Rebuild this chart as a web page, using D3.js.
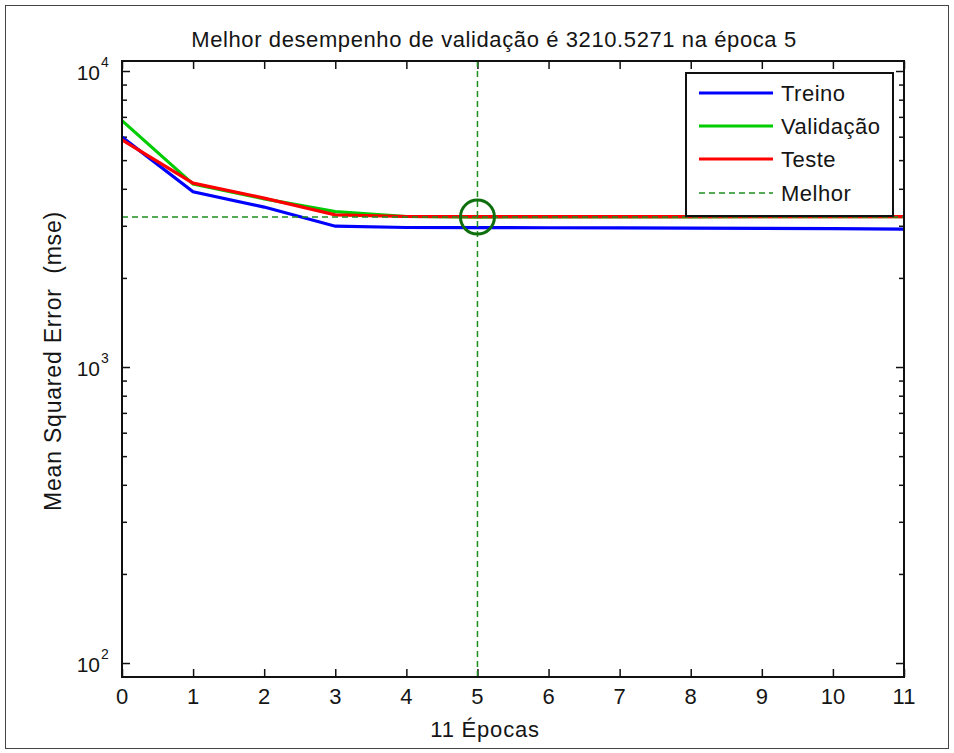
<!DOCTYPE html>
<html>
<head>
<meta charset="utf-8">
<script src="https://cdn.jsdelivr.net/npm/d3@7"></script>
<style>
  body { margin: 0; background: #fff; }
  svg text { font-family: "Liberation Sans", Arial, sans-serif; fill: #151515; }
</style>
</head>
<body>
<svg width="954" height="753"></svg>
<script>
// values
const epochs = [0, 1, 2, 3, 4, 5, 6, 7, 8, 9, 10, 11];
const treino = [5980, 3910, 3470, 2990, 2960, 2958, 2955, 2952, 2948, 2940, 2935, 2925];
const validacao = [6800, 4150, 3700, 3350, 3225, 3210.5271, 3214, 3216, 3217, 3218, 3219, 3220];
const teste = [5850, 4180, 3720, 3265, 3225, 3224, 3223, 3222, 3222, 3222, 3222, 3222];
const bestEpoch = 5;
const bestValue = 3210.5271;
const xTicks = [0, 1, 2, 3, 4, 5, 6, 7, 8, 9, 10, 11];
const yMajor = [2, 3, 4];
const legendNames = ['Treino', 'Validação', 'Teste', 'Melhor'];

const svg = d3.select('svg');
const pLeft = 122, pRight = 904, pTop = 61, pBottom = 677;

// outer figure frame
svg.append('rect')
    .attr('x', 5.5).attr('y', 5.5)
    .attr('width', 943).attr('height', 743)
    .attr('fill', 'none').attr('stroke', '#444').attr('stroke-width', 1);

const x = d3.scaleLinear().domain([0, 11]).range([pLeft, pRight]);
const y = d3.scaleLog().domain([89.7, 10810]).range([pBottom, pTop]);

// minor ticks of the log axis
const minor = [];
for (let e = 1; e <= 4; e++) {
    for (let m = 2; m <= 9; m++) {
        const v = m * Math.pow(10, e);
        if (v > 89.7 && v < 10810) minor.push(v);
    }
}

const g = svg.append('g');

// y axis ticks, left and right, pointing inward
g.append('g').attr('transform', `translate(${pLeft},0)`)
    .call(d3.axisRight(y).tickValues(yMajor.map(p => Math.pow(10, p))).tickSize(8).tickFormat(''));
g.append('g').attr('transform', `translate(${pRight},0)`)
    .call(d3.axisLeft(y).tickValues(yMajor.map(p => Math.pow(10, p))).tickSize(8).tickFormat(''));
g.append('g').attr('transform', `translate(${pLeft},0)`)
    .call(d3.axisRight(y).tickValues(minor).tickSize(5).tickFormat(''));
g.append('g').attr('transform', `translate(${pRight},0)`)
    .call(d3.axisLeft(y).tickValues(minor).tickSize(5).tickFormat(''));

// x axis ticks, bottom and top
g.append('g').attr('transform', `translate(0,${pBottom})`)
    .call(d3.axisTop(x).tickValues(xTicks).tickSize(8).tickFormat(''));
g.append('g').attr('transform', `translate(0,${pTop})`)
    .call(d3.axisBottom(x).tickValues(xTicks).tickSize(8).tickFormat(''));

g.selectAll('.domain').remove();
g.selectAll('.tick line').attr('stroke', '#111').attr('stroke-width', 1.5);

// x tick labels
svg.append('g').selectAll('text').data(xTicks).enter().append('text')
    .attr('x', d => x(d)).attr('y', 704)
    .attr('text-anchor', 'middle').attr('font-size', 22)
    .text(d => d);

// y tick labels as 10^n
svg.append('g').selectAll('text').data(yMajor).enter().append('text')
    .attr('x', 100).attr('y', d => y(Math.pow(10, d)) + 9)
    .attr('text-anchor', 'end').attr('font-size', 21)
    .text('10');
svg.append('g').selectAll('text').data(yMajor).enter().append('text')
    .attr('x', 101).attr('y', d => y(Math.pow(10, d)) - 4)
    .attr('font-size', 14)
    .text(d => d);

// series
const line = vals => d3.line().x((d, i) => x(epochs[i])).y(d => y(d))(vals);
const series = [
    { name: 'Treino', vals: treino, color: '#0000ff' },
    { name: 'Validação', vals: validacao, color: '#00cc00' },
    { name: 'Teste', vals: teste, color: '#ff0000' },
];
svg.append('g').selectAll('path').data(series).enter().append('path')
    .attr('d', d => line(d.vals))
    .attr('fill', 'none').attr('stroke', d => d.color).attr('stroke-width', 3.2);

// best epoch lines and marker
const bestColor = '#1e8f1e';
svg.append('line')
    .attr('x1', x(bestEpoch)).attr('x2', x(bestEpoch))
    .attr('y1', pTop).attr('y2', pBottom)
    .attr('stroke', bestColor).attr('stroke-width', 1.5).attr('stroke-dasharray', '6,4');
svg.append('line')
    .attr('x1', x(0)).attr('x2', x(11))
    .attr('y1', y(bestValue)).attr('y2', y(bestValue))
    .attr('stroke', bestColor).attr('stroke-width', 1.5).attr('stroke-dasharray', '6,4');
svg.append('circle')
    .attr('cx', x(bestEpoch)).attr('cy', y(bestValue)).attr('r', 17)
    .attr('fill', 'none').attr('stroke', '#0f6f0f').attr('stroke-width', 3);

// axes box
svg.append('rect')
    .attr('x', pLeft).attr('y', pTop)
    .attr('width', pRight - pLeft).attr('height', pBottom - pTop)
    .attr('fill', 'none').attr('stroke', '#111').attr('stroke-width', 2);

// legend
const lg = svg.append('g');
lg.append('rect')
    .attr('x', 686).attr('y', 73).attr('width', 207).attr('height', 143)
    .attr('fill', '#fff').attr('stroke', '#111').attr('stroke-width', 2);
const rowY = [93, 126, 159, 193];
const legendStyle = [
    { color: '#0000ff', dash: null, w: 3.2 },
    { color: '#00cc00', dash: null, w: 3.2 },
    { color: '#ff0000', dash: null, w: 3.2 },
    { color: bestColor, dash: '6,4', w: 1.5 },
];
legendNames.forEach((name, i) => {
    lg.append('line')
        .attr('x1', 699).attr('x2', 773).attr('y1', rowY[i]).attr('y2', rowY[i])
        .attr('stroke', legendStyle[i].color).attr('stroke-width', legendStyle[i].w)
        .attr('stroke-dasharray', legendStyle[i].dash);
    lg.append('text')
        .attr('x', 781).attr('y', rowY[i] + 8)
        .attr('font-size', 22).attr('letter-spacing', 0.5)
        .text(name);
});

// title and axis labels
svg.append('text')
    .attr('x', 494).attr('y', 47)
    .attr('text-anchor', 'middle').attr('font-size', 22).attr('letter-spacing', 0.6)
    .text('Melhor desempenho de validação é 3210.5271 na época 5');
svg.append('text')
    .attr('x', 485).attr('y', 737)
    .attr('text-anchor', 'middle').attr('font-size', 22).attr('letter-spacing', 0.8)
    .text('11 Épocas');
svg.append('text')
    .attr('transform', 'translate(61,361) rotate(-90)')
    .attr('text-anchor', 'middle').attr('font-size', 23).attr('letter-spacing', 0.8)
    .text('Mean Squared Error\u00a0\u00a0(mse)');
</script>
</body>
</html>
